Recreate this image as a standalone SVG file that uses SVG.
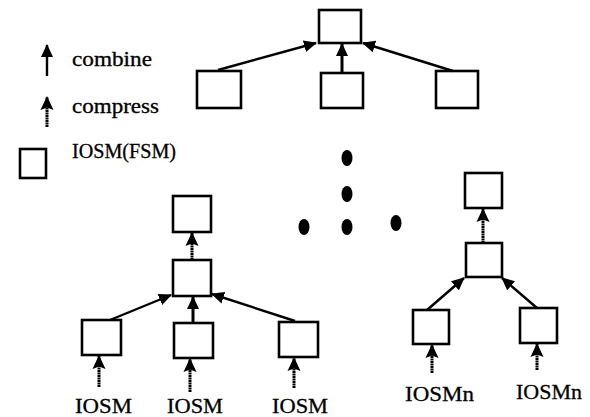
<svg xmlns="http://www.w3.org/2000/svg" width="590" height="417" viewBox="0 0 590 417">
  <style>
    .box { fill: #fff; stroke: #000; stroke-width: 2.6; }
    .combine { fill: none; stroke: #000; stroke-width: 2.4; marker-end: url(#headCombine); }
    .combine.thick { stroke-width: 3; }
    .compress { fill: none; stroke: #000; stroke-width: 3; stroke-dasharray: 2 0.5; marker-end: url(#headCompress); }
    .lbl { font-family: "Liberation Serif", "Times New Roman", serif; fill: #000; stroke: #000; stroke-width: 0.3; }
    .legend { font-size: 20px; }
    .src { font-size: 22px; }
    .dot { fill: #000; }
  </style>
  <defs>
    <marker id="headCombine" markerUnits="userSpaceOnUse" markerWidth="13" markerHeight="13" refX="12" refY="6.5" orient="auto" viewBox="0 0 13 13">
      <path d="M0,0.5 L13,6.5 L0,12.5 Z" fill="#000"/>
    </marker>
    <marker id="headCompress" markerUnits="userSpaceOnUse" markerWidth="14" markerHeight="14" refX="13" refY="7" orient="auto" viewBox="0 0 14 14">
      <path d="M0,0.5 L14,7 L0,13.5 L2.5,7 Z" fill="#000"/>
    </marker>
  </defs>

  <!-- legend -->
  <g id="legend">
    <line class="combine" x1="47" y1="76" x2="47" y2="45"/>
    <text class="lbl legend" x="72" y="66" textLength="80" lengthAdjust="spacingAndGlyphs">combine</text>
    <line class="compress" x1="47" y1="127" x2="47" y2="97"/>
    <text class="lbl legend" x="72" y="113" textLength="87" lengthAdjust="spacingAndGlyphs">compress</text>
    <rect class="box" x="20" y="149" width="26" height="29"/>
    <text class="lbl legend" x="72" y="158" textLength="104" lengthAdjust="spacingAndGlyphs">IOSM(FSM)</text>
  </g>

  <!-- upper tree -->
  <g id="top-root"><rect class="box" x="319" y="10" width="42" height="33"/></g>
  <g id="top-left"><rect class="box" x="197" y="71" width="44" height="37"/></g>
  <g id="top-mid"><rect class="box" x="321" y="73" width="42" height="35"/></g>
  <g id="top-right"><rect class="box" x="436" y="71" width="42" height="37"/></g>

  <!-- lower-left tree -->
  <g id="ll-root"><rect class="box" x="173" y="196" width="38" height="36"/></g>
  <g id="ll-mid"><rect class="box" x="173" y="260" width="38" height="36"/></g>
  <g id="ll-b1"><rect class="box" x="82" y="320" width="39" height="35"/></g>
  <g id="ll-b2"><rect class="box" x="174" y="323" width="39" height="35"/></g>
  <g id="ll-b3"><rect class="box" x="279" y="322" width="39" height="35"/></g>
  <g id="ll-l1"><text class="lbl src" x="75" y="413" textLength="57" lengthAdjust="spacingAndGlyphs">IOSM</text></g>
  <g id="ll-l2"><text class="lbl src" x="167" y="413" textLength="56" lengthAdjust="spacingAndGlyphs">IOSM</text></g>
  <g id="ll-l3"><text class="lbl src" x="272" y="413" textLength="56" lengthAdjust="spacingAndGlyphs">IOSM</text></g>

  <!-- right tree -->
  <g id="rt-root"><rect class="box" x="465" y="173" width="37" height="35"/></g>
  <g id="rt-mid"><rect class="box" x="466" y="243" width="36" height="34"/></g>
  <g id="rt-b1"><rect class="box" x="413" y="310" width="36" height="34"/></g>
  <g id="rt-b2"><rect class="box" x="520" y="308" width="37" height="35"/></g>
  <g id="rt-l1"><text class="lbl src" x="405" y="401" textLength="69" lengthAdjust="spacingAndGlyphs">IOSMn</text></g>
  <g id="rt-l2"><text class="lbl src" x="516" y="399" textLength="66" lengthAdjust="spacingAndGlyphs">IOSMn</text></g>

  <!-- ellipsis between the trees -->
  <g id="ellipsis">
    <ellipse class="dot" cx="347" cy="158" rx="5.5" ry="8"/>
    <ellipse class="dot" cx="347" cy="194" rx="5.5" ry="8"/>
    <ellipse class="dot" cx="347" cy="227" rx="5.5" ry="8"/>
    <ellipse class="dot" cx="304" cy="227" rx="5.5" ry="8"/>
    <ellipse class="dot" cx="396" cy="223" rx="5.5" ry="8"/>
  </g>

  <!-- connectors -->
  <g id="connectors">
    <!-- upper tree -->
    <line class="combine" x1="218" y1="70" x2="316" y2="43"/>
    <line class="combine thick" x1="342" y1="73" x2="342" y2="44"/>
    <line class="combine" x1="453" y1="71" x2="363" y2="43"/>
    <!-- lower-left tree -->
    <line class="combine" x1="110" y1="320" x2="171" y2="295"/>
    <line class="combine thick" x1="193" y1="323" x2="193" y2="297"/>
    <line class="combine" x1="295" y1="321" x2="212" y2="294"/>
    <line class="compress" x1="192" y1="260" x2="192" y2="233"/>
    <line class="compress" x1="99" y1="387" x2="99" y2="356"/>
    <line class="compress" x1="190" y1="392" x2="190" y2="359"/>
    <line class="compress" x1="294" y1="388" x2="294" y2="358"/>
    <!-- right tree -->
    <line class="combine" x1="427" y1="310" x2="464" y2="278"/>
    <line class="combine" x1="537" y1="308" x2="502" y2="278"/>
    <line class="compress" x1="483" y1="243" x2="483" y2="209"/>
    <line class="compress" x1="432" y1="373" x2="432" y2="345"/>
    <line class="compress" x1="537" y1="370" x2="537" y2="344"/>
  </g>
</svg>
